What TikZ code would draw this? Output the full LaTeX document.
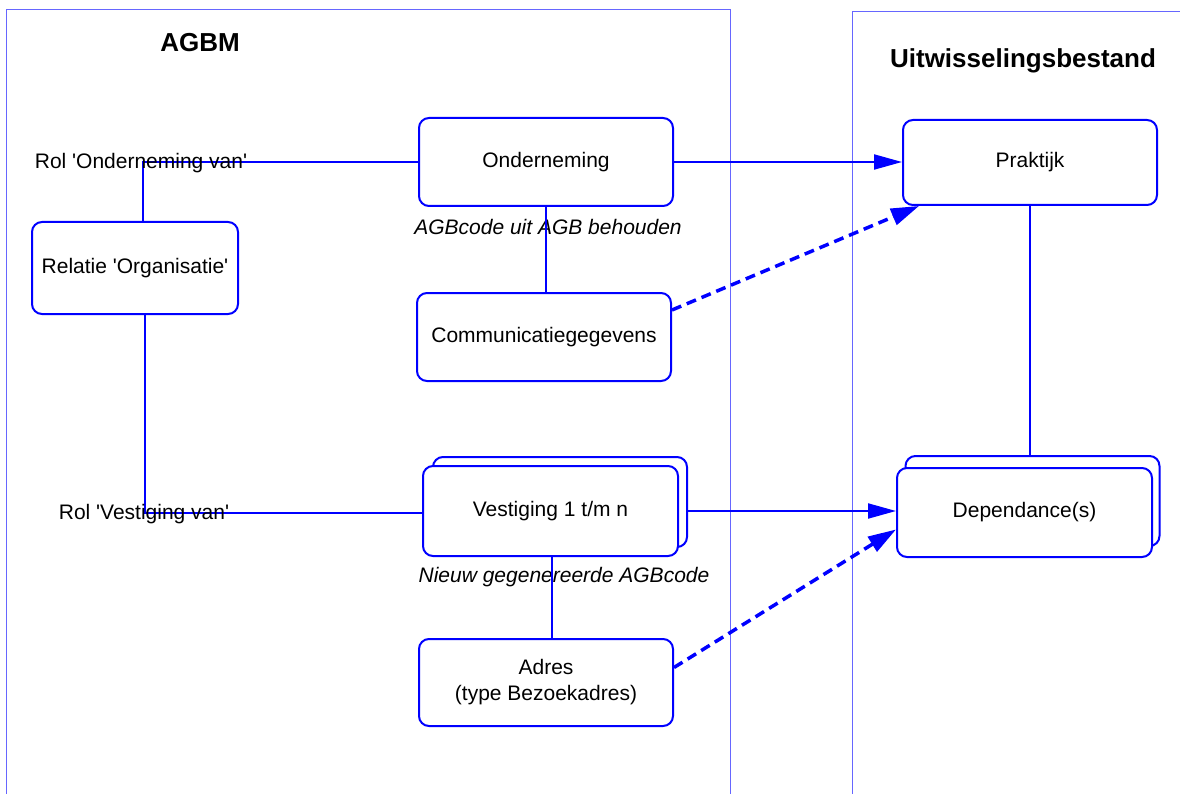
\documentclass[tikz,border=0pt]{standalone}
\usepackage{fontspec}
\setmainfont{Liberation Sans}
\usetikzlibrary{arrows.meta}
\begin{document}
\begin{tikzpicture}[x=1pt,y=-1pt,
  frame/.style={draw=blue!60, line width=1pt},
  box/.style={draw=blue, line width=2pt, rounded corners=10pt, fill=white, inner sep=0pt, align=center,
    font=\fontsize{21}{26}\selectfont},
  lbl/.style={inner sep=0pt, font=\fontsize{21}{26}\selectfont},
  ilbl/.style={inner sep=0pt, font=\fontsize{21}{26}\selectfont\itshape},
  ttl/.style={inner sep=0pt, font=\fontsize{26}{30}\selectfont\bfseries},
  conn/.style={draw=blue, line width=2pt},
  arr/.style={draw=blue, line width=2pt, -{Triangle[length=28pt,width=15pt]}},
  darr/.style={draw=blue, line width=3.5pt, dash pattern=on 10pt off 6pt, -{Triangle[length=28pt,width=17pt]}}
]
\useasboundingbox (0,0) rectangle (1180,794);
% frames
\draw[frame] (6,800) -- (6,10) -- (730,10) -- (730,800);
\draw[frame] (852,800) -- (852,12) -- (1190,12);
% titles
\node[ttl] (tA) at (200,43) {AGBM};
\node[ttl] (tU) at (1023,61) {Uitwisselingsbestand};
% boxes
\node[box, minimum width=254pt, minimum height=88pt] (onder) at (546,162) {Onderneming};
\node[box, minimum width=254pt, minimum height=88pt] (comm) at (544,337) {Communicatiegegevens};
\node[box, minimum width=206pt, minimum height=92pt] (rel) at (135,268) {Relatie \textquotesingle Organisatie\textquotesingle};
\node[box, minimum width=254pt, minimum height=90pt] (vb) at (560,502) {};
\node[box, minimum width=255pt, minimum height=90pt] (vf) at (550.5,511) {Vestiging 1 t/m n};
\node[box, minimum width=254pt, minimum height=87pt] (adres) at (546,682.5) {Adres\\(type Bezoekadres)};
\node[box, minimum width=254pt, minimum height=85pt] (prak) at (1030,162.5) {Praktijk};
\node[box, minimum width=254pt, minimum height=90pt] (db) at (1032.5,501) {};
\node[box, minimum width=255pt, minimum height=89pt] (df) at (1024.5,512.5) {Dependance(s)};
% labels
\node[ilbl] (lA) at (548,227) {AGBcode uit AGB behouden};
\node[ilbl] (lN) at (564,577) {Nieuw gegenereerde AGBcode};
\coordinate (jO) at (143,162);
\coordinate (jV) at (145,513);
% connectors
\draw[conn] (rel.north -| jO) -- (jO) -- (jO -| onder.west);
\draw[conn] (rel.south -| jV) -- (jV) -- (jV -| vf.west);
\draw[conn] (onder.south) -- (onder.south |- comm.north);
\draw[conn] ([xshift=1.5pt]vf.south) -- ([xshift=1.5pt]vf.south |- adres.north);
\draw[conn] (prak.south) -- (prak.south |- db.north);
\draw[arr] (onder.east) -- (onder.east -| prak.west);
\draw[arr] (vf.center -| vb.east) -- (vf.center -| df.west);
\draw[darr] ([yshift=27pt]comm.east) -- ([xshift=17pt]prak.south west);
\draw[darr] ([yshift=15pt]adres.east) -- ([yshift=-17pt]df.west);
% role labels (over lines)
\node[lbl] (rolO) at (141,163) {Rol \textquotesingle Onderneming van\textquotesingle};
\node[lbl] (rolV) at (144,514) {Rol \textquotesingle Vestiging van\textquotesingle};
\end{tikzpicture}
\end{document}
